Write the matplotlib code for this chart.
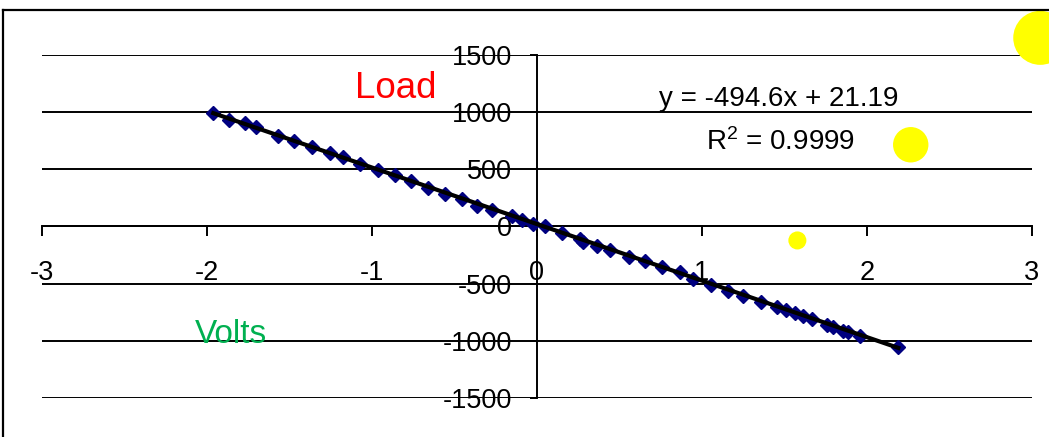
import matplotlib
matplotlib.use("Agg")
import matplotlib.pyplot as plt
from matplotlib.lines import Line2D
import numpy as np

plt.rcParams['font.family'] = ['Liberation Sans', 'DejaVu Sans']
plt.rcParams['mathtext.fontset'] = 'custom'
plt.rcParams['mathtext.rm'] = 'Liberation Sans'
plt.rcParams['mathtext.it'] = 'Liberation Sans:italic'

# ---- data ----
volts = [-1.962, -1.865, -1.770, -1.705, -1.572, -1.473, -1.365, -1.255, -1.174, -1.073,
         -0.965, -0.861, -0.766, -0.662, -0.558, -0.456, -0.362, -0.275, -0.153, -0.093,
         -0.022, 0.048, 0.150, 0.261, 0.281, 0.362, 0.442, 0.559, 0.655, 0.756,
         0.867, 0.947, 1.055, 1.156, 1.250, 1.358, 1.453, 1.509, 1.564, 1.614,
         1.665, 1.755, 1.795, 1.856, 1.887, 1.958, 2.190]
load = [995, 935, 905, 868, 795, 745, 695, 642, 611, 550,
        497, 450, 395, 338, 288, 240, 183, 148, 95, 55,
        18, 0, -55, -108, -138, -168, -203, -265, -305, -357,
        -402, -458, -508, -565, -610, -662, -703, -727, -755, -785,
        -808, -858, -878, -916, -924, -955, -1058]
slope = -494.6
intercept = 21.19
r2 = 0.9999

bubble_x = [3.05, 2.265, 1.578]
bubble_y = [1650, 715, -122]
bubble_s = [1512, 650, 169]

xticks = [-3, -2, -1, 0, 1, 2, 3]
yticks = [-1500, -1000, -500, 0, 500, 1000, 1500]

W, H = 1049, 437
fig = plt.figure(figsize=(W / 100, H / 100), dpi=100)
fig.patch.set_facecolor('white')

def fx(px):
    return px / W

def fy(py):
    return 1 - py / H

ax = fig.add_axes([fx(42), fy(398), (1032 - 42) / W, (398 - 55) / H])
ax.set_xlim(-3, 3)
ax.set_ylim(-1500, 1500)
ax.set_facecolor('none')

for s in ['top', 'right']:
    ax.spines[s].set_visible(False)
ax.spines['left'].set_position(('data', 0))
ax.spines['bottom'].set_position(('data', 0))
for s in ['left', 'bottom']:
    ax.spines[s].set_linewidth(1.4)
    ax.spines[s].set_color('black')

ax.set_xticks(xticks)
ax.set_yticks(yticks)
ax.set_xticklabels([str(v) for v in xticks])
ax.set_yticklabels([str(v) for v in yticks])
ax.tick_params(axis='x', direction='out', length=7, width=1.4, pad=17, labelsize=19.5)
ax.tick_params(axis='y', direction='out', length=5, width=1.4, pad=13, labelsize=19.5)

ax.yaxis.grid(True, color='black', linewidth=1.4, zorder=0)
ax.set_axisbelow(True)

ax.scatter(bubble_x, bubble_y, s=bubble_s, color='#FFFF00', edgecolors='none',
           zorder=2, clip_on=False)

ax.plot(volts, load, linestyle='none', marker='D', markersize=7.5,
        color='#000080', markeredgecolor='#000080', zorder=3)

xfit = np.array([min(volts), max(volts)])
ax.plot(xfit, slope * xfit + intercept, color='black', linewidth=3, zorder=4)

# texts
fig.text(fx(396), fy(98), 'Load', color='#FF0000', fontsize=26.5,
         ha='center', va='baseline')
fig.text(fx(231), fy(343), 'Volts', color='#00B050', fontsize=24,
         ha='center', va='baseline')
fig.text(fx(779), fy(106.5), f'y = {slope}x + {intercept}', color='black',
         fontsize=20, ha='center', va='baseline')
fig.text(fx(781), fy(150), r'R$^{2}$ = ' + f'{r2}', color='black',
         fontsize=20, ha='center', va='baseline')

# outer chart frame
fig.add_artist(Line2D([fx(3), fx(W)], [fy(10), fy(10)], transform=fig.transFigure,
                      color='black', linewidth=1.6))
fig.add_artist(Line2D([fx(3), fx(3)], [fy(10), fy(H)], transform=fig.transFigure,
                      color='black', linewidth=1.6))

fig.savefig('out.png', dpi=100, facecolor='white')
